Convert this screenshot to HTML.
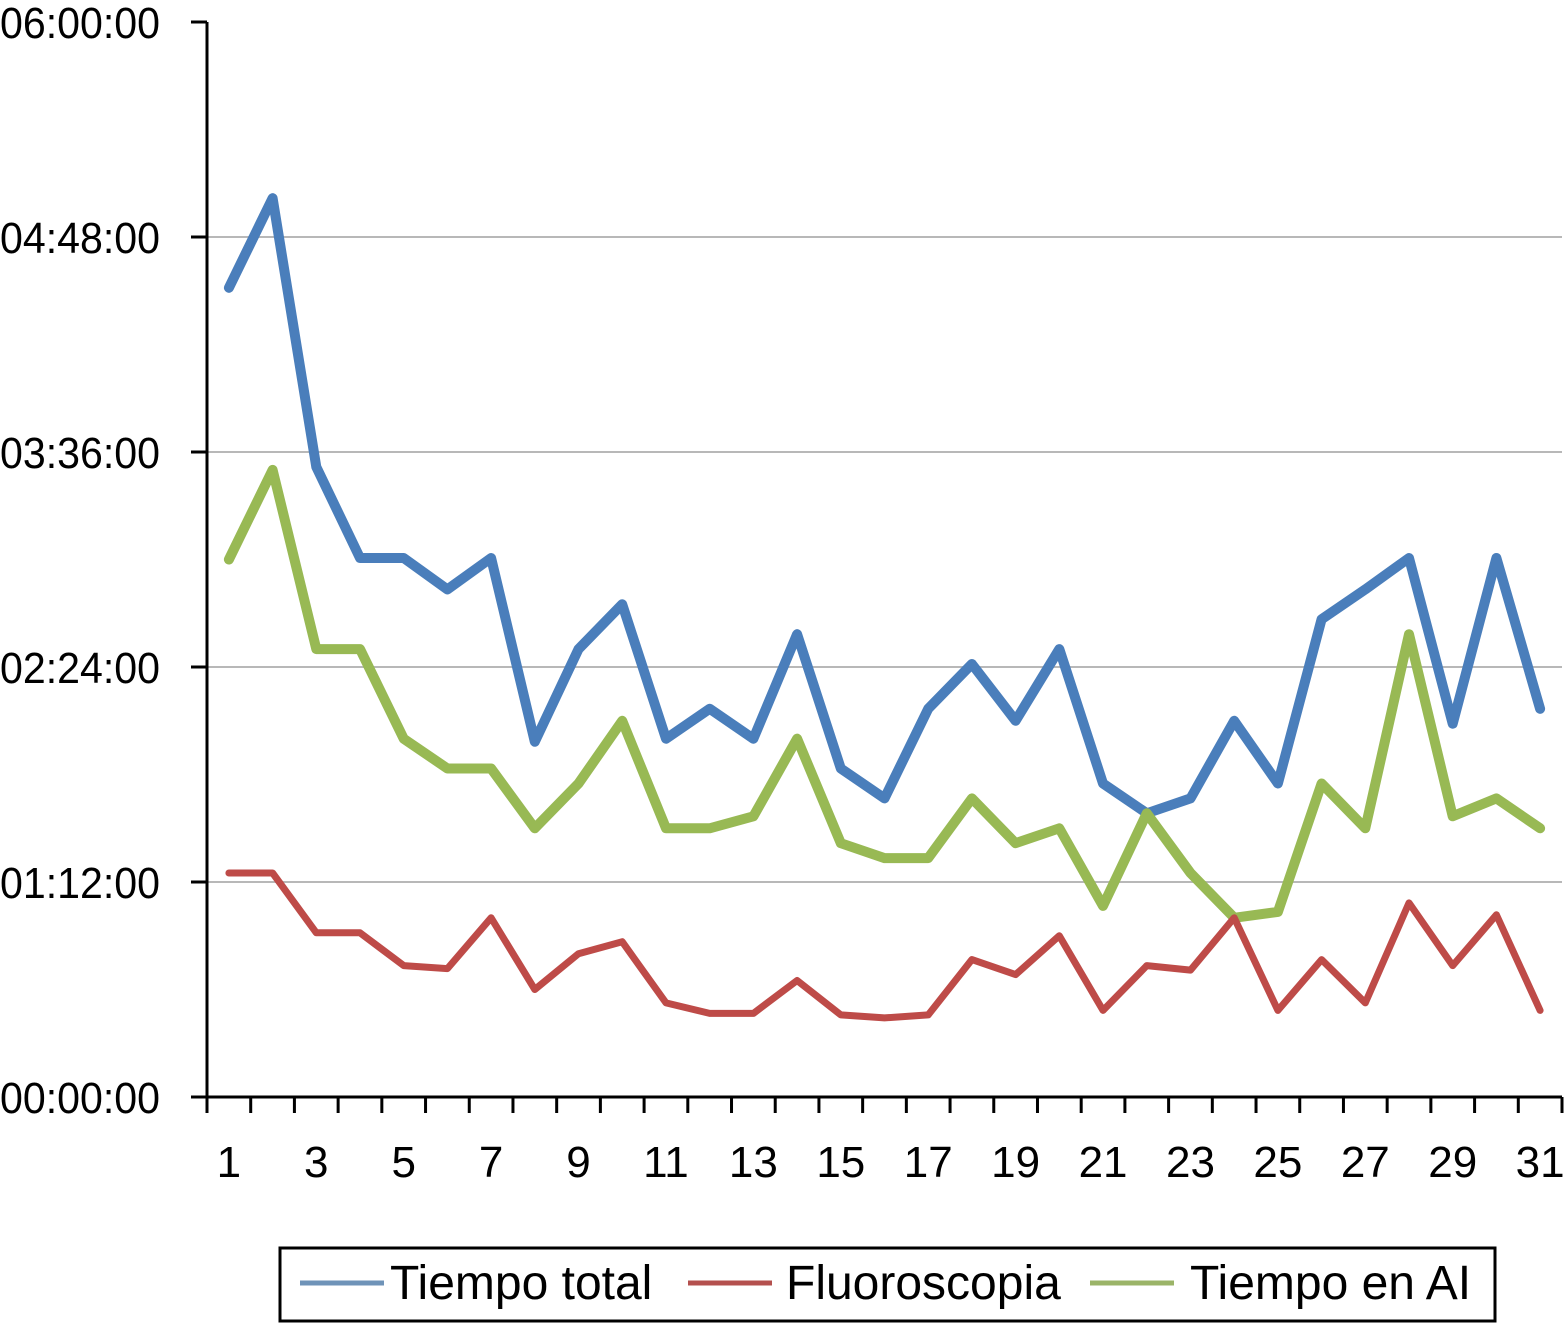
<!DOCTYPE html>
<html><head><meta charset="utf-8"><style>
html,body{margin:0;padding:0;background:#fff;}
svg{display:block;font-family:"Liberation Sans",Arial,sans-serif;}
</style></head><body>
<svg id="chart" width="1565" height="1323" viewBox="0 0 1565 1323"></svg>
<script>
const categories = [1,2,3,4,5,6,7,8,9,10,11,12,13,14,15,16,17,18,19,20,21,22,23,24,25,26,27,28,29,30,31];
const tiempoTotal = [271,301,211,180.5,180.5,170,180.5,119,150,165,120,130,120,155,110,100,130,145,126,150,105,95,100,126,105,160,170,180.5,125,180.5,130];
const fluoroscopia = [75,75,55,55,44,43,60,36,48,52,31.5,28,28,39,27.5,26.5,27.5,46,41,54,29,44,42.5,60,29,46,31.5,65,44,61,29];
const tiempoAI = [180,210,150,150,120,110,110,90,105,126,90,90,94,120,85,80,80,100,85,90,64,95,75,60,62,105,90,155,94,100,90];
const yTickValues = [0,72,144,216,288,360];
const yTickLabels = ["00:00:00","01:12:00","02:24:00","03:36:00","04:48:00","06:00:00"];
const xTickLabels = [1,3,5,7,9,11,13,15,17,19,21,23,25,27,29,31];

const NS="http://www.w3.org/2000/svg";
const svg=document.getElementById('chart');
const X0=207, X1=1562, Y0=1097, Y1=22;
const step=(X1-X0)/categories.length;
function xScale(i){return X0+step*(i+0.5);}
function yScale(v){return Y0-(v/360)*(Y0-Y1);}
function mk(tag,attrs){const e=document.createElementNS(NS,tag);for(const k in attrs)e.setAttribute(k,attrs[k]);svg.appendChild(e);return e;}

yTickValues.forEach((v,i)=>{
  const y=yScale(v);
  if(v>0&&v<360){
    const g=mk('line',{x1:X0,x2:X1,y1:y,y2:y,stroke:'#b8b8b8','stroke-width':2});
    
    
  }
  const t=mk('line',{x1:X0-16,x2:X0,y1:y,y2:y,stroke:'#000','stroke-width':3});
  
  
  const l=mk('text',{x:0,y:y+16,'font-size':44,fill:'#000',textLength:160,lengthAdjust:'spacingAndGlyphs'});
  l.textContent=yTickLabels[i];
  
  
});
const ya=mk('line',{x1:X0,x2:X0,y1:Y1,y2:Y0,stroke:'#000','stroke-width':3});


const xa=mk('line',{x1:X0-16,x2:X1,y1:Y0,y2:Y0,stroke:'#000','stroke-width':3});


for(let i=0;i<=categories.length;i++){
  const x=X0+step*i;
  const t=mk('line',{x1:x,x2:x,y1:Y0,y2:Y0+16,stroke:'#000','stroke-width':3});
  
  
}
xTickLabels.forEach(c=>{
  const i=categories.indexOf(c);
  const l=mk('text',{x:xScale(i),y:1177,'text-anchor':'middle','font-size':44,fill:'#000'});
  l.textContent=c;
  
  
});
function series(vals,color,w,name){
  const d=vals.map((v,i)=>(i?'L':'M')+xScale(i).toFixed(1)+' '+yScale(v).toFixed(1)).join(' ');
  const p=mk('path',{d:d,fill:'none',stroke:color,'stroke-width':w,'stroke-linejoin':'round','stroke-linecap':'round'});
  
  
}
series(tiempoTotal,'#4a7ebb',10,'series-tiempo-total');
series(tiempoAI,'#98b954',10,'series-tiempo-en-ai');
series(fluoroscopia,'#be4b48',7,'series-fluoroscopia');

const box=mk('rect',{x:280,y:1248,width:1215,height:73,fill:'#fff',stroke:'#000','stroke-width':3});


const items=[['Tiempo total','#6f93b8',300,390],['Fluoroscopia','#b4504e',688,786],['Tiempo en AI','#9bb468',1090,1190]];
items.forEach(it=>{
  const ln=mk('line',{x1:it[2],x2:it[2]+84,y1:1283,y2:1283,stroke:it[1],'stroke-width':5});
  
  
  const t=mk('text',{x:it[3],y:1299,'font-size':48,fill:'#000'});
  t.textContent=it[0];
  
  
});
</script>
</body></html>
